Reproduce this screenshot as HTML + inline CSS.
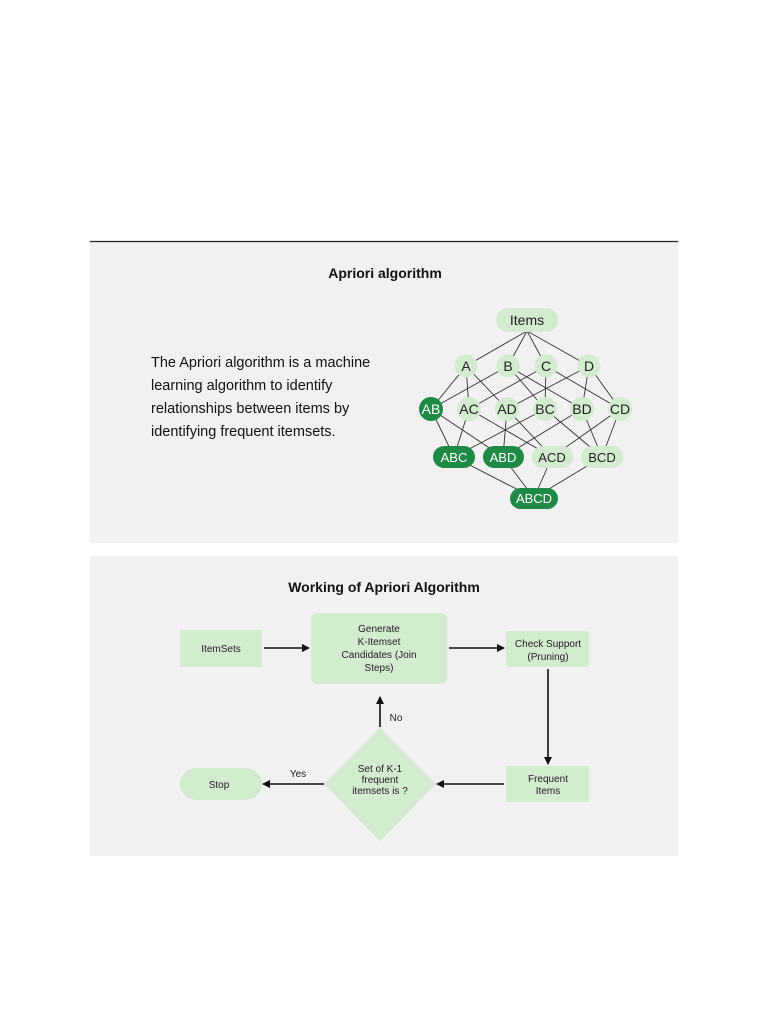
<!DOCTYPE html>
<html><head><style>body{margin:0;background:#fff}svg{display:block}text{font-family:"Liberation Sans",sans-serif}</style></head><body>
<svg width="768" height="1024" xmlns="http://www.w3.org/2000/svg">
<defs><marker id="ar" markerWidth="8" markerHeight="8" refX="7" refY="4" orient="auto" markerUnits="userSpaceOnUse"><path d="M0,0 L8,4 L0,8 z" fill="#111"/></marker></defs>
<rect x="90" y="241" width="588" height="302" fill="#f1f1f1"/>
<line x1="90" y1="241.5" x2="678" y2="241.5" stroke="#222" stroke-width="1.2"/>
<rect x="90" y="556" width="588" height="300" fill="#f1f1f1"/>
<text x="385" y="278" font-size="14" font-weight="bold" text-anchor="middle" fill="#111">Apriori algorithm</text>
<g font-size="14.5" fill="#111"><text x="151" y="367">The Apriori algorithm is a machine</text><text x="151" y="390">learning algorithm to identify</text><text x="151" y="413">relationships between items by</text><text x="151" y="436">identifying frequent itemsets.</text></g>
<g stroke="#333" stroke-width="0.9">
<line x1="527" y1="331" x2="466" y2="366"/><line x1="527" y1="331" x2="508" y2="366"/><line x1="527" y1="331" x2="546" y2="366"/><line x1="527" y1="331" x2="589" y2="366"/>
<line x1="466" y1="366" x2="431" y2="409"/><line x1="466" y1="366" x2="469" y2="409"/><line x1="466" y1="366" x2="507" y2="409"/>
<line x1="508" y1="366" x2="431" y2="409"/><line x1="508" y1="366" x2="545" y2="409"/><line x1="508" y1="366" x2="582" y2="409"/>
<line x1="546" y1="366" x2="469" y2="409"/><line x1="546" y1="366" x2="545" y2="409"/><line x1="546" y1="366" x2="620" y2="409"/>
<line x1="589" y1="366" x2="507" y2="409"/><line x1="589" y1="366" x2="582" y2="409"/><line x1="589" y1="366" x2="620" y2="409"/>
<line x1="431" y1="409" x2="454" y2="457"/><line x1="431" y1="409" x2="503" y2="457"/>
<line x1="469" y1="409" x2="454" y2="457"/><line x1="469" y1="409" x2="552" y2="457"/>
<line x1="507" y1="409" x2="503" y2="457"/><line x1="507" y1="409" x2="552" y2="457"/>
<line x1="545" y1="409" x2="454" y2="457"/><line x1="545" y1="409" x2="602" y2="457"/>
<line x1="582" y1="409" x2="503" y2="457"/><line x1="582" y1="409" x2="602" y2="457"/>
<line x1="620" y1="409" x2="552" y2="457"/><line x1="620" y1="409" x2="602" y2="457"/>
<line x1="454" y1="457" x2="534" y2="498"/><line x1="503" y1="457" x2="534" y2="498"/><line x1="552" y1="457" x2="534" y2="498"/><line x1="602" y1="457" x2="534" y2="498"/>
</g>
<g font-size="14" text-anchor="middle">
<rect x="496" y="308" width="62" height="24" rx="12" fill="#d3ebcf"/><text x="527" y="325" fill="#222">Items</text>
<g fill="#d3ebcf"><circle cx="466" cy="366" r="11.5"/><circle cx="508" cy="366" r="11.5"/><circle cx="546" cy="366" r="11.5"/><circle cx="589" cy="366" r="11.5"/>
<circle cx="469" cy="409" r="12"/><circle cx="507" cy="409" r="12"/><circle cx="545" cy="409" r="12"/><circle cx="582" cy="409" r="12"/><circle cx="620" cy="409" r="12"/>
<rect x="532" y="446" width="41" height="22" rx="11"/><rect x="581" y="446" width="42" height="22" rx="11"/></g>
<circle cx="431" cy="409" r="12" fill="#1f8a45"/>
<g fill="#1f8a45"><rect x="433" y="446" width="42" height="22" rx="11"/><rect x="483" y="446" width="41" height="22" rx="11"/><rect x="510" y="488" width="48" height="21" rx="10.5"/></g>
<g fill="#222"><text x="466" y="371">A</text><text x="508" y="371">B</text><text x="546" y="371">C</text><text x="589" y="371">D</text>
<text x="469" y="414">AC</text><text x="507" y="414">AD</text><text x="545" y="414">BC</text><text x="582" y="414">BD</text><text x="620" y="414">CD</text>
<text x="552" y="462" font-size="13">ACD</text><text x="602" y="462" font-size="13">BCD</text></g>
<g fill="#fff"><text x="431" y="414">AB</text><text x="454" y="462" font-size="13">ABC</text><text x="503" y="462" font-size="13">ABD</text><text x="534" y="503" font-size="13">ABCD</text></g>
</g>
<text x="384" y="592" font-size="14" font-weight="bold" text-anchor="middle" fill="#111">Working of Apriori Algorithm</text>
<g fill="#d3ebcf">
<rect x="180" y="630" width="82" height="37"/>
<rect x="311" y="613" width="136" height="71" rx="6"/>
<rect x="506" y="631" width="83" height="36" rx="3"/>
<rect x="506" y="766" width="83" height="36"/>
<path d="M380,728 L436,784 L380,841 L324,784 Z"/>
<rect x="180" y="768" width="82" height="32" rx="16"/>
</g>
<g stroke="#111" stroke-width="1.6" marker-end="url(#ar)">
<line x1="264" y1="648" x2="309" y2="648"/><line x1="449" y1="648" x2="504" y2="648"/>
<line x1="548" y1="669" x2="548" y2="764"/><line x1="504" y1="784" x2="437" y2="784"/>
<line x1="324" y1="784" x2="263" y2="784"/><line x1="380" y1="727" x2="380" y2="697"/>
</g>
<g font-size="10" text-anchor="middle" fill="#222">
<text x="221" y="652">ItemSets</text>
<text x="379" y="632">Generate</text><text x="379" y="645">K-Itemset</text><text x="379" y="658">Candidates (Join</text><text x="379" y="671">Steps)</text>
<text x="548" y="647">Check Support</text><text x="548" y="660">(Pruning)</text>
<text x="548" y="782">Frequent</text><text x="548" y="794">Items</text>
<text x="380" y="772">Set of K-1</text><text x="380" y="783">frequent</text><text x="380" y="794">itemsets is ?</text>
<text x="219" y="788">Stop</text><text x="298" y="777">Yes</text><text x="396" y="721">No</text>
</g>
</svg>
</body></html>
